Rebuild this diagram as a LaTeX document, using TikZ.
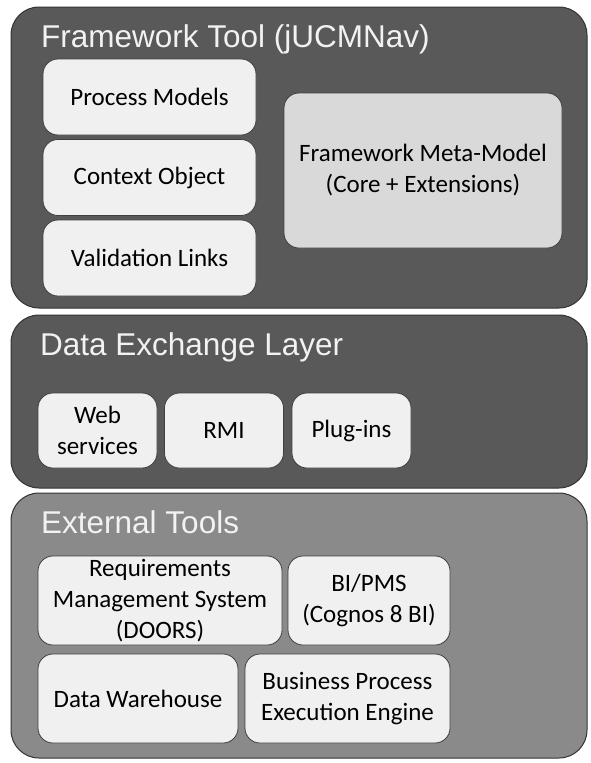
\documentclass[tikz,border=0pt]{standalone}
\usepackage{fontspec}
\usepackage{tikz}
\newfontfamily\headfont{Liberation Sans}
\newfontfamily\itemfont{Carlito}

\tikzset{
    panel/.style={draw=black!80, line width=1pt, rounded corners=28pt, minimum width=576pt, inner sep=0pt},
    heading/.style={anchor=base west, text=black!5, font=\headfont\fontsize{31.5}{36}\selectfont, inner sep=0pt},
    item/.style={draw=black!75, fill=black!6, line width=0.8pt, rounded corners=15pt, align=center,
        inner sep=0pt, font=\itemfont\fontsize{25}{31}\selectfont}
}

\begin{document}
\begin{tikzpicture}[x=1pt, y=-1pt]
\useasboundingbox (0,0) rectangle (591,763);

% Framework tool
\node[panel, fill=black!65, minimum height=301pt] (fwtool) at (299,157.5) {};
\node[heading] (fwtitle) at (41,47) {Framework Tool (jUCMNav)};
\foreach \name/\txt/\y in {procmod/Process Models/97, ctxobj/Context Object/177.5, vallinks/Validation Links/258} {
    \node[item, minimum width=213pt, minimum height=76pt] (\name) at (149.5,\y) {\txt};
}
\node[item, fill=black!15, minimum width=278pt, minimum height=155pt] (metamodel) at (423,170.5)
    {Framework Meta-Model\\(Core + Extensions)};

% Data exchange layer
\node[panel, fill=black!65, minimum height=173pt] (dxlayer) at (299,401.5) {};
\node[heading] (dxtitle) at (40,355) {Data Exchange Layer};
\foreach \name/\txt/\x in {websvc/Web\\services/97.5, rmi/RMI/224, plugins/Plug-ins/351.5} {
    \node[item, minimum width=119pt, minimum height=75pt] (\name) at (\x,430.5) {\txt};
}

% External tools
\node[panel, fill=black!46, minimum height=265pt] (exttools) at (299,625.5) {};
\node[heading] (exttitle) at (41,533) {External Tools};
\node[item, minimum width=244pt, minimum height=89pt] (reqs) at (160,600.5)
    {Requirements\\Management System\\(DOORS)};
\node[item, minimum width=162pt, minimum height=89pt] (bipms) at (369,600.5) {BI/PMS\\(Cognos 8 BI)};
\node[item, minimum width=200pt, minimum height=89pt] (dwh) at (138,698.5) {Data Warehouse};
\node[item, minimum width=205pt, minimum height=89pt] (bpee) at (347.5,698.5)
    {Business Process\\Execution Engine};
\end{tikzpicture}
\end{document}
